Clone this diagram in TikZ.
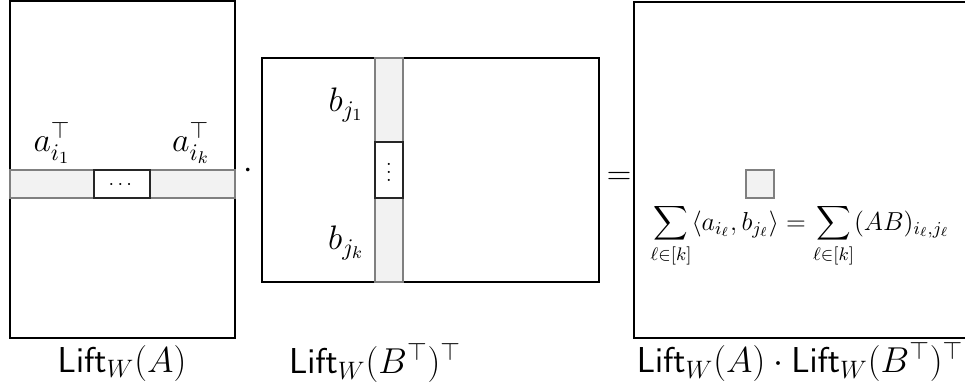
\documentclass[tikz,border=0pt]{standalone}
\usepackage{fix-cm}
\usepackage{amsmath}
\usetikzlibrary{positioning}

\begin{document}
\begin{tikzpicture}[x=0.5pt, y=-0.5pt,
  matbox/.style={draw=black, line width=0.6pt},
  strip/.style={draw=black!50, fill=black!5, line width=0.6pt},
  dotbox/.style={draw=black!85, fill=white, line width=0.6pt},
  vec/.style={inner sep=0pt, font=\fontsize{17}{20}\selectfont},
  dots/.style={inner sep=0pt, font=\fontsize{10}{12}\selectfont},
  op/.style={inner sep=0pt, font=\fontsize{17}{20}\selectfont},
  caption/.style={inner sep=0pt, font=\fontsize{18}{22}\selectfont},
]
\useasboundingbox (0,0) rectangle (965,387);
\clip (0,0) rectangle (965,387);

% left factor
\draw[matbox] (10,1) rectangle (235,338);
\draw[strip] (10,170) rectangle (235,198);
\draw[dotbox] (94,170) rectangle (150,198);
\node[dots] (hdots) at (122,185) {$\cdots$};
\node[vec] (ai1) at (52,143) {$a_{i_1}^{\top}$};
\node[vec] (aik) at (191,143) {$a_{i_k}^{\top}$};
\node[caption] (capA) at (122,363) {$\mathsf{Lift}_W(A)$};

\node[op] (times) at (248,171) {$\cdot$};

% right factor
\draw[matbox] (262,58) rectangle (599,282);
\draw[strip] (375,58) rectangle (403,282);
\draw[dotbox] (375,142) rectangle (403,198);
\node[dots] (vdots) at (389,166) {$\vdots$};
\node[vec] (bj1) at (346,105) {$b_{j_1}$};
\node[vec] (bjk) at (346,243) {$b_{j_k}$};
\node[caption] (capB) at (375,363) {$\mathsf{Lift}_W(B^{\top})^{\top}$};

\node[op] (equals) at (619,178) {$=$};

% product
\draw[matbox] (634,2) rectangle (980,338);
\draw[strip] (746,170) rectangle (774,198);
\node[inner sep=0pt, font=\fontsize{13}{15}\selectfont] (entry) at (800,236)
  {$\displaystyle\sum_{\ell\in[k]}\langle a_{i_\ell}, b_{j_\ell}\rangle = \sum_{\ell\in[k]}(AB)_{i_\ell,j_\ell}$};
\node[caption] (capAB) at (800,362) {$\mathsf{Lift}_W(A)\cdot\mathsf{Lift}_W(B^{\top})^{\top}$};
\end{tikzpicture}
\end{document}
